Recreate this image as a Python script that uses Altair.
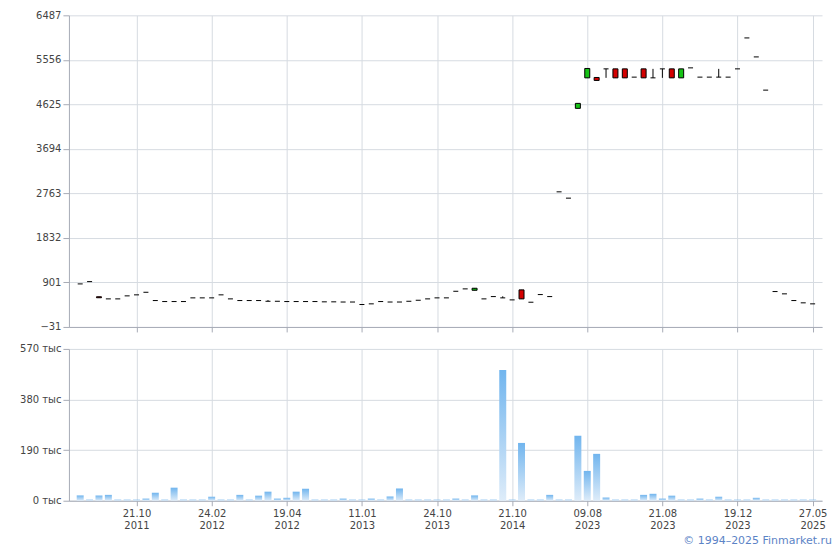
import altair as alt
import pandas as pd

# ---- data (index = trading period) ----
opens = [869, 917, 600, 556, 556, 619, 640, 694, 521, 500,
         500, 500, 577, 577, 577, 640, 556, 521, 521, 521,
         506, 506, 500, 500, 500, 500, 494, 494, 490, 490,
         438, 452, 500, 490, 490, 506, 527, 556, 577, 577,
         715, 765, 736, 556, 604, 577, 535, 744, 486, 646,
         604, 2795, 2663, 4541, 5179, 5187, 5367, 5367, 5367, 5194,
         5367, 5179, 5367, 5367, 5179, 5388, 5194, 5194, 5194, 5194,
         5367, 6014, 5617, 4922, 709, 661, 521, 473, 452]
closes = [869, 917, 580, 556, 556, 619, 640, 694, 521, 500,
          500, 500, 577, 577, 577, 640, 556, 521, 521, 521,
          506, 506, 500, 500, 500, 500, 494, 494, 490, 490,
          438, 452, 500, 490, 490, 506, 527, 556, 577, 577,
          715, 765, 778, 556, 604, 577, 535, 556, 486, 646,
          604, 2795, 2663, 4645, 5375, 5125, 5367, 5179, 5179, 5194,
          5179, 5179, 5367, 5179, 5367, 5388, 5194, 5194, 5194, 5194,
          5367, 6014, 5617, 4922, 709, 661, 521, 473, 452]
highs = [869, 917, 600, 556, 556, 619, 640, 694, 521, 500,
         500, 500, 577, 577, 577, 640, 556, 521, 521, 521,
         530, 506, 500, 500, 500, 500, 494, 494, 490, 490,
         438, 452, 500, 490, 490, 506, 527, 556, 577, 577,
         715, 765, 778, 556, 604, 610, 535, 744, 486, 646,
         604, 2795, 2663, 4645, 5375, 5187, 5367, 5367, 5367, 5194,
         5367, 5367, 5367, 5367, 5367, 5388, 5194, 5194, 5367, 5194,
         5367, 6014, 5617, 4922, 709, 661, 521, 473, 452]
lows = [869, 917, 580, 556, 556, 619, 640, 694, 521, 500,
        500, 500, 577, 577, 577, 640, 556, 521, 521, 521,
        506, 506, 500, 500, 500, 500, 494, 494, 490, 490,
        438, 452, 500, 490, 490, 506, 527, 556, 577, 577,
        715, 765, 736, 556, 604, 577, 535, 556, 486, 646,
        604, 2795, 2663, 4541, 5179, 5125, 5179, 5179, 5179, 5194,
        5179, 5179, 5179, 5179, 5179, 5388, 5194, 5194, 5194, 5194,
        5367, 6014, 5617, 4922, 709, 661, 521, 473, 452]
volumes = [20, 4, 20, 22, 4, 4, 4, 8, 30, 4,
           49, 4, 4, 4, 15, 4, 4, 22, 4, 19,
           34, 8, 11, 34, 45, 4, 4, 4, 8, 4,
           4, 8, 4, 16, 46, 4, 4, 4, 4, 4,
           8, 4, 20, 4, 4, 491, 4, 217, 4, 4,
           22, 4, 4, 244, 112, 176, 12, 4, 4, 4,
           22, 26, 8, 19, 4, 4, 8, 4, 15, 4,
           4, 4, 11, 4, 4, 4, 4, 4, 4]

tick_idx = [6, 14, 22, 30, 38, 46, 54, 62, 70, 78]
tick_day = ["21.10", "24.02", "19.04", "11.01", "24.10", "21.10", "09.08", "21.08", "19.12", "27.05"]
tick_year = ["2011", "2012", "2012", "2013", "2013", "2014", "2023", "2023", "2023", "2025"]
price_ticks = [-31, 901, 1832, 2763, 3694, 4625, 5556, 6487]
vol_ticks = [0, 190, 380, 570]

df = pd.DataFrame({
    "i": list(range(len(opens))),
    "open": opens, "close": closes, "high": highs, "low": lows, "vol": volumes,
})
df["flat"] = df["open"] == df["close"]
df["dir"] = ["up" if c > o else "down" for o, c in zip(df["open"], df["close"])]
df["haswick"] = df["high"] > df["low"]

label_arr = "[" + ",".join("['%s','%s']" % (d, y) for d, y in zip(tick_day, tick_year)) + "]"
label_expr = label_arr + "[round((datum.value-6)/8)]"

W = 754
xscale = alt.Scale(domain=[-1.2, 79], nice=False, zero=False, padding=0)
pscale = alt.Scale(domain=[-31, 6487], nice=False, zero=False, padding=0)

grid_col = "#d6dbe1"
axis_col = "#a7abb6"

x_top = alt.X("i:Q", scale=xscale, title=None,
              axis=alt.Axis(values=tick_idx, labels=False, grid=True, tickSize=5,
                            domainColor=axis_col, tickColor=axis_col, gridColor=grid_col))
y_top = alt.Y("open:Q", scale=pscale, title=None,
              axis=alt.Axis(values=price_ticks, format="d", grid=True, tickSize=6,
                            domainColor=axis_col, tickColor=axis_col, gridColor=grid_col))

base = alt.Chart(df)

wick = base.transform_filter("datum.haswick").mark_rule(color="black", strokeWidth=1).encode(
    x=x_top, y=alt.Y("low:Q", scale=pscale), y2="high:Q")
body = base.transform_filter("!datum.flat").mark_bar(width=5, stroke="black", strokeWidth=1).encode(
    x=x_top, y=y_top, y2="close:Q",
    color=alt.Color("dir:N", scale=alt.Scale(domain=["up", "down"], range=["#16c316", "#d40000"]),
                    legend=None))
dash = base.transform_filter("datum.flat").mark_rule(color="black", strokeWidth=1,
                                                      xOffset=-2.5, x2Offset=2.5).encode(
    x=x_top, x2="i:Q", y=alt.Y("close:Q", scale=pscale))

top = alt.layer(wick, body, dash).properties(width=W, height=312)

grad = alt.Gradient(gradient="linear",
                    stops=[alt.GradientStop(color="#deecf9", offset=0),
                           alt.GradientStop(color="#71b5ee", offset=1)],
                    x1=0, x2=0, y1=1, y2=0)

bottom = base.mark_bar(width=7, color=grad).encode(
    x=alt.X("i:Q", scale=xscale, title=None,
            axis=alt.Axis(values=tick_idx, labelExpr=label_expr, grid=True, tickSize=5,
                          labelFlush=False, labelLineHeight=12, labelPadding=3,
                          domainColor=axis_col, tickColor=axis_col, gridColor=grid_col)),
    y=alt.Y("vol:Q", scale=alt.Scale(domain=[0, 570], nice=False, padding=0), title=None,
            axis=alt.Axis(values=vol_ticks, labelExpr="datum.value + ' тыс'", grid=True, tickSize=6,
                          domainColor=axis_col, tickColor=axis_col, gridColor=grid_col)),
).properties(width=W, height=152)

chart = alt.vconcat(top, bottom, spacing=11).properties(
    title=alt.TitleParams("© 1994–2025 Finmarket.ru", orient="bottom", anchor="end",
                          color="#5b83c6", fontSize=11, font="DejaVu Sans",
                          fontWeight="normal", offset=4, dx=5),
    padding={"left": 11, "top": 2, "right": 0, "bottom": 0},
).configure_axis(
    labelFont="DejaVu Sans", labelFontSize=10, labelColor="#444444", labelPadding=2,
).configure_view(stroke=None)

chart.save("out.html", embed_options={"renderer": "svg", "actions": False})
